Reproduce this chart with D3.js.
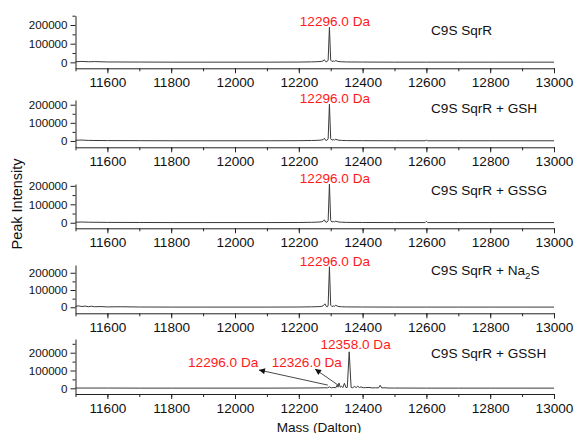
<!DOCTYPE html>
<html>
<head>
<meta charset="utf-8">
<script src="https://cdn.jsdelivr.net/npm/d3@7"></script>
<style>
  body { margin: 0; background: #fff; }
  svg { display: block; }
  text { font-family: "Liberation Sans", Arial, sans-serif; }
</style>
</head>
<body>
<svg id="chart" width="575" height="433"></svg>
<script>
// ---- data -------------------------------------------------------------
const massDomain = [11500, 13000];
const massTicks = [11600, 11800, 12000, 12200, 12400, 12600, 12800, 13000];
const massMinorTicks = d3.range(11500, 13001, 100);
const intensityTicks = [0, 100000, 200000];
const intensityMinorTicks = [-50000, 50000, 150000, 250000];

const sampleNames = ["C9S SqrR", "C9S SqrR + GSH", "C9S SqrR + GSSG", "C9S SqrR + Na|2|S", "C9S SqrR + GSSH"];
const intensityMin = [-32000, -35000, -30000, -35000, -32000];
const intensityMax = [250000, 226000, 210000, 245000, 277000];

// deconvoluted spectra (mass in Da, intensity in counts)
const massC9S = [11500, 11520, 11540, 11560, 11600, 11700, 11800, 11900, 12000, 12100, 12200, 12240, 12260, 12270, 12276, 12280, 12284, 12288, 12292, 12296, 12300, 12304, 12308, 12312, 12316, 12320, 12326, 12334, 12350, 12400, 12500, 12600, 12700, 12800, 12900, 13000];
const intC9S  = [3000, 5000, 3000, 4000, 2000, 1500, 1000, 1000, 1000, 1000, 1500, 2500, 3500, 5000, 7000, 14000, 4000, 3000, 12000, 188000, 12000, 4000, 7000, 5000, 10000, 6000, 4000, 3000, 2000, 1500, 1000, 1000, 1000, 1000, 1000, 1000];

const massGSH = [11500, 11520, 11540, 11600, 11700, 11800, 11900, 12000, 12100, 12200, 12240, 12260, 12270, 12276, 12280, 12284, 12288, 12292, 12296, 12300, 12304, 12308, 12312, 12316, 12320, 12326, 12334, 12350, 12400, 12500, 12596, 12600, 12604, 12700, 12800, 12900, 13000];
const intGSH  = [4000, 5000, 3000, 2000, 1500, 1000, 1000, 1000, 1000, 1500, 2500, 3500, 5000, 7000, 15000, 4000, 3000, 12000, 203000, 12000, 4000, 8000, 5000, 10000, 6000, 4000, 3000, 2000, 1500, 1000, 1000, 4000, 1000, 1000, 1000, 1000, 1000];

const massGSSG = [11500, 11520, 11540, 11600, 11700, 11800, 11900, 12000, 12100, 12200, 12240, 12260, 12270, 12276, 12280, 12284, 12288, 12292, 12296, 12300, 12304, 12308, 12312, 12316, 12320, 12326, 12334, 12350, 12400, 12500, 12596, 12600, 12604, 12700, 12800, 12900, 13000];
const intGSSG  = [3000, 4000, 3000, 2000, 1500, 1000, 1000, 1000, 1000, 1500, 2500, 3500, 5000, 8000, 16000, 4000, 3000, 12000, 210000, 12000, 4000, 7000, 5000, 9000, 6000, 4000, 3000, 2000, 1500, 1000, 1000, 8000, 1000, 1000, 1000, 1000, 1000];

const massNa2S = [11500, 11510, 11520, 11530, 11540, 11550, 11560, 11580, 11600, 11640, 11700, 11800, 11900, 12000, 12100, 12200, 12240, 12260, 12270, 12276, 12282, 12286, 12290, 12292, 12296, 12300, 12304, 12308, 12312, 12316, 12320, 12326, 12334, 12350, 12400, 12500, 12600, 12700, 12800, 12900, 13000];
const intNa2S  = [5000, 8000, 4000, 7000, 3000, 6000, 3000, 4000, 2000, 3000, 1500, 1000, 1000, 1000, 1000, 1500, 2500, 3500, 5000, 8000, 20000, 5000, 3000, 12000, 235000, 12000, 4000, 8000, 5000, 12000, 7000, 4000, 3000, 2000, 1500, 1000, 1000, 1000, 1000, 1000, 1000];

const massGSSH = [11500, 11600, 11700, 11800, 11900, 12000, 12100, 12200, 12260, 12280, 12290, 12296, 12302, 12310, 12316, 12320, 12323, 12326, 12330, 12334, 12338, 12343, 12348, 12352, 12358, 12364, 12368, 12375, 12380, 12385, 12390, 12395, 12402, 12410, 12420, 12430, 12440, 12450, 12455, 12460, 12470, 12480, 12500, 12600, 12700, 12800, 12900, 13000];
const intGSSH  = [1500, 1500, 1000, 1000, 1000, 1000, 1000, 1500, 2000, 3000, 2500, 8000, 2500, 5000, 3000, 18000, 6000, 30000, 6000, 12000, 4000, 28000, 4000, 5000, 205000, 5000, 3000, 10000, 4000, 12000, 4000, 8000, 3000, 4000, 5000, 2000, 3000, 2000, 17000, 2000, 3000, 1500, 1500, 1000, 1000, 1000, 1000, 1000];

const spectraMass = [massC9S, massGSH, massGSSG, massNa2S, massGSSH];
const spectraInt  = [intC9S, intGSH, intGSSG, intNa2S, intGSSH];

// labelled peaks (panels 1-4 label the main peak directly above it)
const mainPeakMass = [12296, 12296, 12296, 12296];

// GSSH panel: labelled species, where their labels sit, and the arrows
const gsshPeakMass     = [12296, 12326, 12358];
const gsshTextMass     = [11963, 12225, 12378];
const gsshTextInt      = [121000, 121000, 222000];
const gsshArrowTail    = [[12291, 18000], [12323, 18000]];
const gsshArrowHead    = [[12075, 103000], [12251, 108000]];

// ---- layout -----------------------------------------------------------
const plotLeft = 75.5, plotRight = 554;
const panelTop    = [15.7, 100, 184, 265, 339];
const panelBottom = [68.3, 147.3, 228.3, 313.3, 394];
const nameX = 431;
const nameOffset = [27, 28, 28, 32, 30];   // baseline above the zero line
const FS = 13.6;      // labels, x ticks
const FS_Y = 11.6;    // y tick labels
const axisColor = "#222";
const lineColor = "#3a3a3a";
const red = "#ff1a1a";

const svg = d3.select("#chart");

svg.append("defs").append("marker")
  .attr("id", "arrowhead")
  .attr("viewBox", "0 0 10 10")
  .attr("refX", 10).attr("refY", 5)
  .attr("markerWidth", 8).attr("markerHeight", 6)
  .attr("markerUnits", "userSpaceOnUse")
  .attr("orient", "auto")
  .append("path").attr("d", "M0,0 L10,5 L0,10 Z").attr("fill", "#111");

const x = d3.scaleLinear().domain(massDomain).range([plotLeft, plotRight]);
const fmtPeak = d3.format(".1f");

sampleNames.forEach((name, i) => {
  const y = d3.scaleLinear()
    .domain([intensityMin[i], intensityMax[i]])
    .range([panelBottom[i], panelTop[i]]);
  const g = svg.append("g");

  // spectrum trace
  const pts = spectraMass[i].map((m, k) => [m, spectraInt[i][k]]);
  g.append("path")
    .datum(pts)
    .attr("fill", "none")
    .attr("stroke", lineColor)
    .attr("stroke-width", 1)
    .attr("stroke-linejoin", "round")
    .attr("d", d3.line().x(d => x(d[0])).y(d => y(d[1])));

  // x axis: minor ticks, then labelled major ticks
  g.append("g")
    .attr("transform", `translate(0,${panelBottom[i]})`)
    .call(d3.axisBottom(x).tickValues(massMinorTicks).tickSize(3).tickSizeOuter(0).tickFormat(""))
    .call(a => a.select(".domain").remove());
  const xa = g.append("g")
    .attr("transform", `translate(0,${panelBottom[i]})`)
    .call(d3.axisBottom(x).tickValues(massTicks).tickSize(5).tickSizeOuter(0).tickPadding(4.5).tickFormat(d3.format("d")));
  xa.selectAll(".tick text").style("font-size", FS + "px");

  // y axis
  const minor = intensityMinorTicks.filter(v => v >= intensityMin[i] && v <= intensityMax[i] + 1);
  g.append("g")
    .attr("transform", `translate(${plotLeft},0)`)
    .call(d3.axisLeft(y).tickValues(minor).tickSize(3).tickSizeOuter(0).tickFormat(""))
    .call(a => a.select(".domain").remove());
  const ya = g.append("g")
    .attr("transform", `translate(${plotLeft},0)`)
    .call(d3.axisLeft(y).tickValues(intensityTicks).tickSize(5).tickSizeOuter(0).tickPadding(3).tickFormat(d3.format("d")));
  ya.selectAll(".tick text").style("font-size", FS_Y + "px");

  g.selectAll(".domain, .tick line").attr("stroke", axisColor);
  g.selectAll(".tick text").attr("fill", "#111")
    .style("font-family", '"Liberation Sans", Arial, sans-serif');

  // sample name (with subscript support via |..|)
  const t = g.append("text")
    .attr("x", nameX)
    .attr("y", y(0) - nameOffset[i])
    .attr("fill", "#111")
    .style("font-size", FS + "px");
  const parts = name.split("|");
  parts.forEach((p, k) => {
    const span = t.append("tspan").text(p);
    if (k % 2 === 1) span.attr("dy", 4).style("font-size", (FS * 0.72) + "px");
    else if (k > 0) span.attr("dy", -4);
  });

  // peak annotations
  if (i < 4) {
    const m = mainPeakMass[i];
    const k = spectraMass[i].indexOf(m);
    g.append("text")
      .attr("x", x(m) + 5.5)
      .attr("y", y(spectraInt[i][k]) - 1)
      .attr("text-anchor", "middle")
      .attr("fill", red)
      .style("font-size", FS + "px")
      .text(fmtPeak(m) + " Da");
  } else {
    gsshPeakMass.forEach((m, j) => {
      g.append("text")
        .attr("x", x(gsshTextMass[j]))
        .attr("y", y(gsshTextInt[j]))
        .attr("text-anchor", "middle")
        .attr("fill", red)
        .style("font-size", FS + "px")
        .text(fmtPeak(m) + " Da");
    });
    gsshArrowTail.forEach((tail, j) => {
      const head = gsshArrowHead[j];
      g.append("line")
        .attr("x1", x(tail[0])).attr("y1", y(tail[1]))
        .attr("x2", x(head[0])).attr("y2", y(head[1]))
        .attr("stroke", "#333").attr("stroke-width", 0.9)
        .attr("marker-end", "url(#arrowhead)");
    });
  }
});

// axis titles
svg.append("text")
  .attr("transform", `translate(22,204) rotate(-90)`)
  .attr("text-anchor", "middle")
  .attr("fill", "#111")
  .style("font-size", "14.5px")
  .text("Peak Intensity");

svg.append("text")
  .attr("x", 319)
  .attr("y", 431.5)
  .attr("text-anchor", "middle")
  .attr("fill", "#111")
  .style("font-size", FS + "px")
  .text("Mass (Dalton)");
</script>
</body>
</html>
